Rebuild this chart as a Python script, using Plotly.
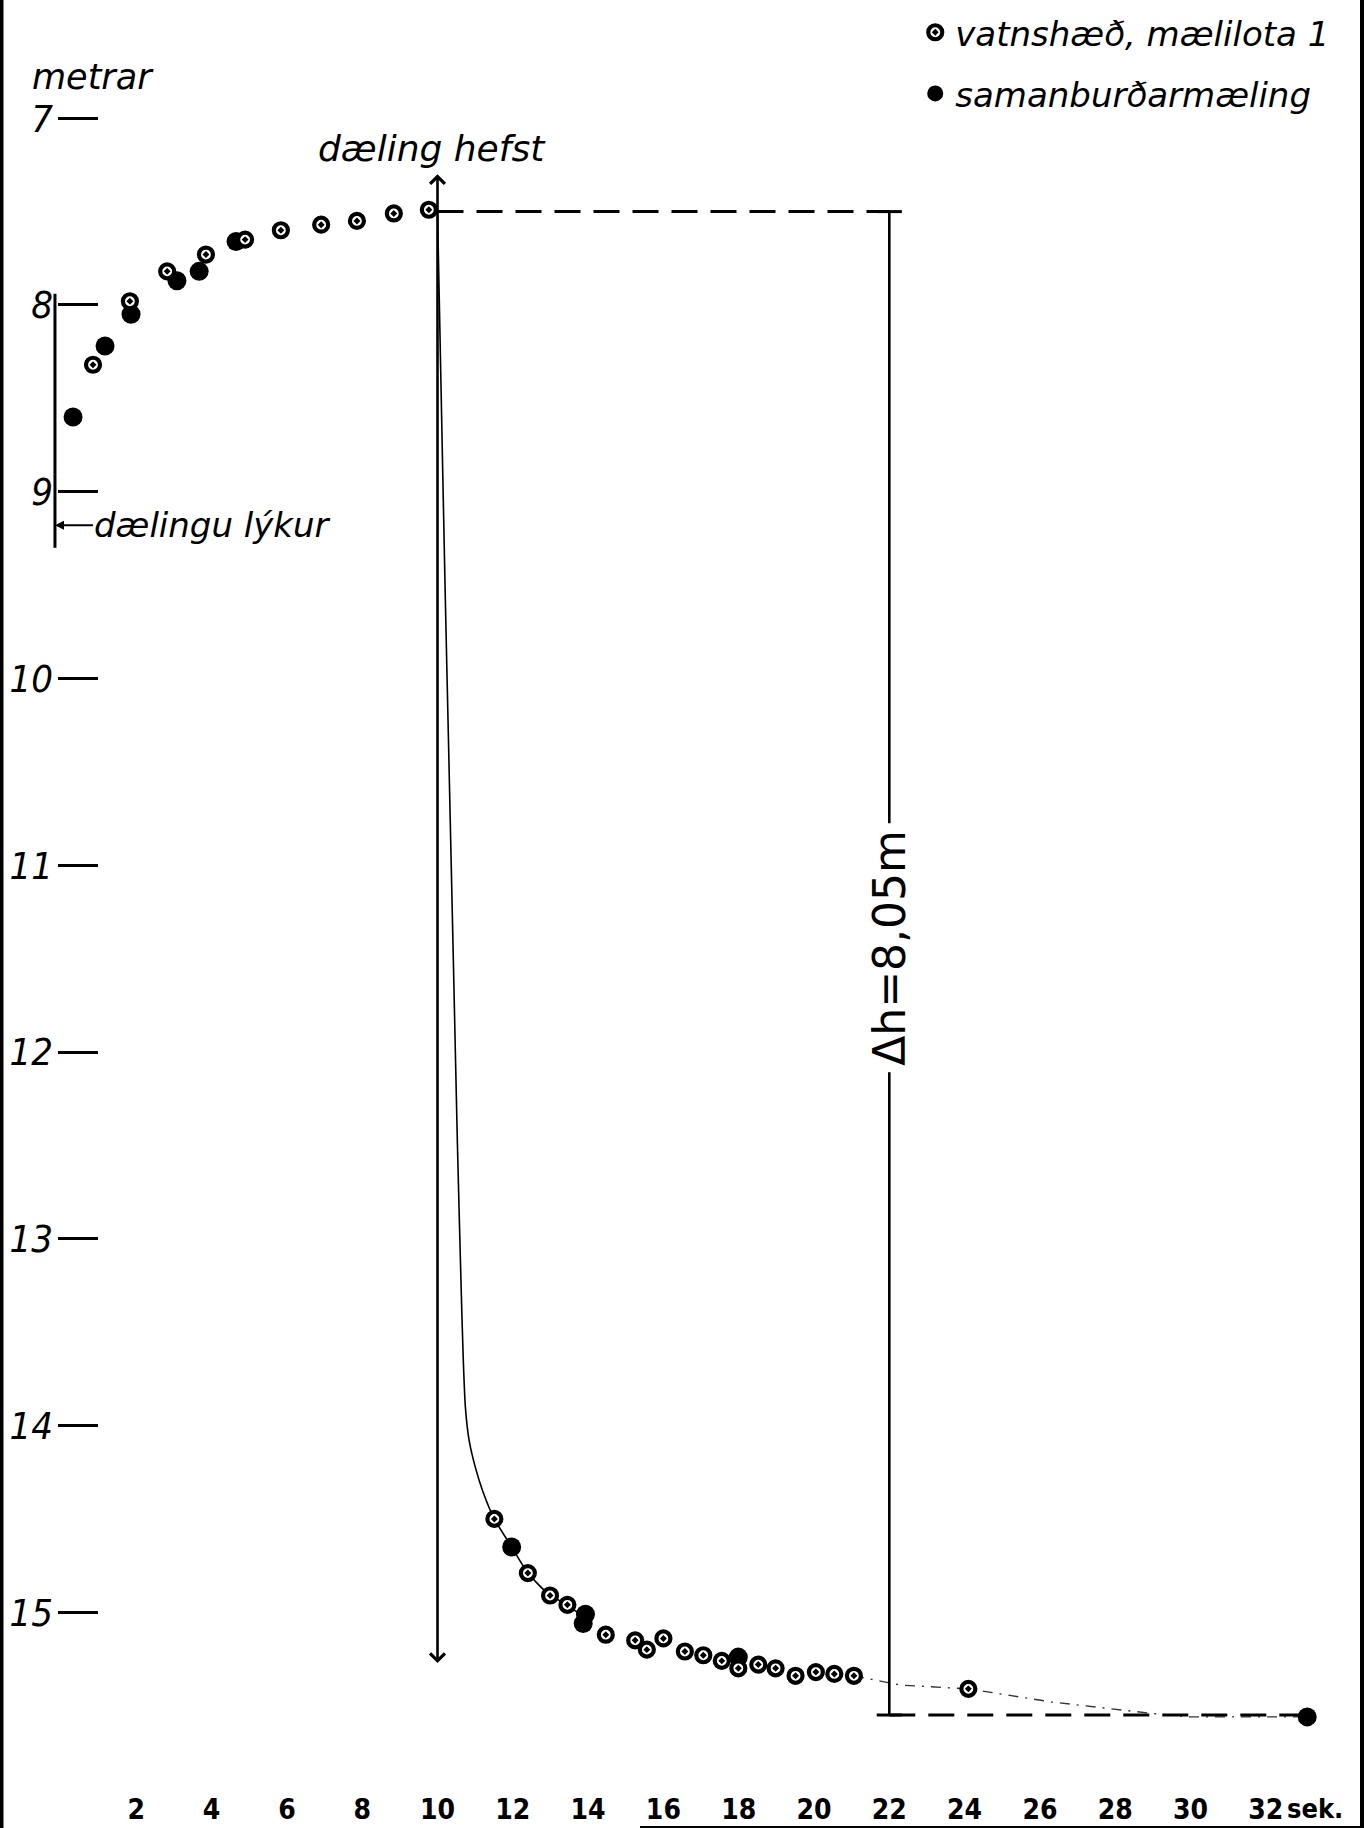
import plotly.graph_objects as go

# ---------------- data ----------------
# open circles: vatnshæð, mælilota 1  (time in s, depth in m)
t_open = [0.85, 1.83, 2.82, 3.85, 4.89, 5.84, 6.91, 7.86, 8.84, 9.77,
          11.51, 12.40, 12.99, 13.45, 14.47, 15.25, 15.56, 16.00, 16.57, 17.06,
          17.55, 17.99, 18.52, 18.98, 19.51, 20.05, 20.54, 21.06, 24.10]
m_open = [8.32, 7.98, 7.82, 7.73, 7.65, 7.60, 7.57, 7.55, 7.51, 7.49,
          14.50, 14.79, 14.91, 14.96, 15.12, 15.15, 15.20, 15.14, 15.21, 15.23,
          15.26, 15.30, 15.28, 15.30, 15.34, 15.32, 15.33, 15.34, 15.41]

# filled dots: samanburðarmæling
t_filled = [0.32, 1.17, 1.86, 3.08, 3.67, 4.65, 11.97, 13.93, 13.87, 17.99, 33.10]
m_filled = [8.60, 8.22, 8.05, 7.87, 7.82, 7.66, 14.65, 15.01, 15.06, 15.24, 15.56]

# drawdown curve after pumping starts (solid)
t_curve = [10.00, 10.10, 10.20, 10.31, 10.42, 10.53, 10.62, 10.68, 10.74, 10.84,
           11.00, 11.20, 11.51, 11.97, 12.40, 12.99, 13.45, 13.90]
m_curve = [7.50, 8.50, 9.50, 10.50, 11.50, 12.50, 13.20, 13.62, 13.90, 14.08,
           14.22, 14.35, 14.50, 14.65, 14.79, 14.91, 14.96, 15.03]

# extrapolated tail (dash-dot)
t_tail = [21.06, 22.30, 24.10, 26.30, 28.90, 30.00, 33.10]
m_tail = [15.34, 15.39, 15.41, 15.48, 15.54, 15.56, 15.56]

# axes
y_ticks = [7, 8, 9, 10, 11, 12, 13, 14, 15, 16]
x_ticks = [2, 4, 6, 8, 10, 12, 14, 16, 18, 20, 22, 24, 26, 28, 30, 32]
x_tick_text = [str(v) for v in x_ticks]
x_unit = "sek."
y_unit = "metrar"

# annotation values
pump_start_t = 10
arrow_m = [7.30, 15.28]
delta_t = 22
h_top = 7.50
h_bottom = 15.55
delta_label = "Δh=8,05m"
delta_label_m = 11.44
last_t = 33.10
stop_bar_t = -0.16
stop_bar_m = [7.94, 9.30]
stop_label_m = 9.18

# ---------------- figure ----------------
W, H = 1364, 1828
X_RANGE = [-1.620, 34.608]
Y_RANGE = [16.155, 6.367]

ITALIC = dict(family="DejaVu Sans, Noto Sans, sans-serif", color="black", style="italic")
NARROW = "Liberation Sans Narrow, DejaVu Sans Condensed, sans-serif"

fig = go.Figure()

fig.add_trace(go.Scatter(x=t_curve, y=m_curve, mode="lines",
                         line=dict(color="black", width=1.6, shape="spline", smoothing=0.6),
                         showlegend=False, hoverinfo="skip"))
fig.add_trace(go.Scatter(x=t_tail, y=m_tail, mode="lines",
                         line=dict(color="#333", width=1.4, dash="10px,7px,2px,7px"),
                         showlegend=False, hoverinfo="skip"))
fig.add_trace(go.Scatter(x=[pump_start_t, delta_t], y=[h_top, h_top], mode="lines",
                         line=dict(color="black", width=3, dash="26px,13px"),
                         showlegend=False, hoverinfo="skip"))
fig.add_trace(go.Scatter(x=[delta_t, last_t], y=[h_bottom, h_bottom], mode="lines",
                         line=dict(color="black", width=3, dash="26px,13px"),
                         showlegend=False, hoverinfo="skip"))
fig.add_trace(go.Scatter(x=[delta_t, delta_t], y=[h_top, h_bottom], mode="lines+markers",
                         line=dict(color="black", width=2.6),
                         marker=dict(symbol="line-ew-open", size=18, color="black",
                                     line=dict(width=3, color="black")),
                         showlegend=False, hoverinfo="skip"))
fig.add_trace(go.Scatter(x=[stop_bar_t, stop_bar_t], y=stop_bar_m, mode="lines",
                         line=dict(color="black", width=3), showlegend=False, hoverinfo="skip"))

fig.add_trace(go.Scatter(x=t_filled, y=m_filled, mode="markers", name="samanburðarmæling",
                         marker=dict(symbol="circle", size=19, color="black",
                                     line=dict(width=0)),
                         legendrank=2, legendgroup="b"))
fig.add_trace(go.Scatter(x=t_open, y=m_open, mode="markers", name="vatnshæð, mælilota 1",
                         marker=dict(symbol="circle-dot", size=14, color="white",
                                     line=dict(width=4.2, color="black")),
                         legendrank=1, legendgroup="a"))

annotations = [
    # double arrow at start of pumping
    dict(x=pump_start_t, y=arrow_m[0], ax=pump_start_t, ay=arrow_m[1],
         xref="x", yref="y", axref="x", ayref="y", text="", showarrow=True,
         arrowhead=4, arrowsize=1.1, arrowwidth=2.6, arrowside="end+start", arrowcolor="black"),
    dict(x=9.85, y=7.16, xref="x", yref="y", text="dæling hefst", showarrow=False,
         font=dict(size=36, **ITALIC)),
    dict(x=-0.82, y=6.78, xref="x", yref="y", text=y_unit, showarrow=False, xanchor="left",
         font=dict(size=35, **ITALIC)),
    dict(x=stop_bar_t, y=stop_label_m, xref="x", yref="y", text="dælingu lýkur",
         showarrow=True, ax=158, ay=0, arrowhead=2, arrowsize=0.9, arrowwidth=2,
         arrowcolor="black", font=dict(size=34, **ITALIC)),
    dict(x=delta_t, y=delta_label_m, xref="x", yref="y", text=delta_label, showarrow=False,
         textangle=-90, bgcolor="white", borderpad=6,
         font=dict(size=44, family="DejaVu Sans, Noto Sans, sans-serif", color="black")),
    dict(x=32.54, y=16.05, xref="x", yref="y", text=x_unit, showarrow=False, xanchor="left",
         yanchor="middle", borderpad=0,
         font=dict(size=27, family=NARROW, color="black", weight="bold")),
]

# frame edges of the scanned sheet
shapes = [
    dict(type="line", xref="paper", yref="paper", x0=1.5 / W, x1=1.5 / W, y0=0, y1=1,
         line=dict(color="black", width=4)),
    dict(type="line", xref="paper", yref="paper", x0=1 - 2 / W, x1=1 - 2 / W, y0=0, y1=1,
         line=dict(color="black", width=4)),
    dict(type="line", xref="paper", yref="paper", x0=640 / W, x1=1, y0=1 / H, y1=1 / H,
         line=dict(color="black", width=2)),
]

fig.update_layout(
    width=W, height=H,
    margin=dict(l=0, r=0, t=0, b=0),
    paper_bgcolor="white", plot_bgcolor="white",
    showlegend=True,
    legend=dict(x=0.671, y=0.998, xanchor="left", yanchor="top",
                font=dict(size=34, **ITALIC), bgcolor="rgba(0,0,0,0)",
                traceorder="grouped", tracegroupgap=14, itemwidth=30),
    annotations=annotations,
    shapes=shapes,
    xaxis=dict(range=X_RANGE, showgrid=False, zeroline=False, showline=False,
               tickmode="array", tickvals=x_ticks, ticktext=x_tick_text,
               ticks="", ticklabelposition="inside",
               tickfont=dict(size=28, color="black", weight="bold", family=NARROW)),
    yaxis=dict(range=Y_RANGE, showgrid=False, zeroline=False, showline=False,
               anchor="free", position=57 / W,
               tickmode="array", tickvals=y_ticks, ticktext=[str(v) for v in y_ticks],
               ticks="inside", ticklen=40, tickwidth=3, tickcolor="black",
               ticklabelstandoff=4,
               tickfont=dict(size=38, color="black", style="italic", family=NARROW)),
)

fig.write_html("out.html", config={"displayModeBar": False},
               post_script="document.body.style.margin='0';")
